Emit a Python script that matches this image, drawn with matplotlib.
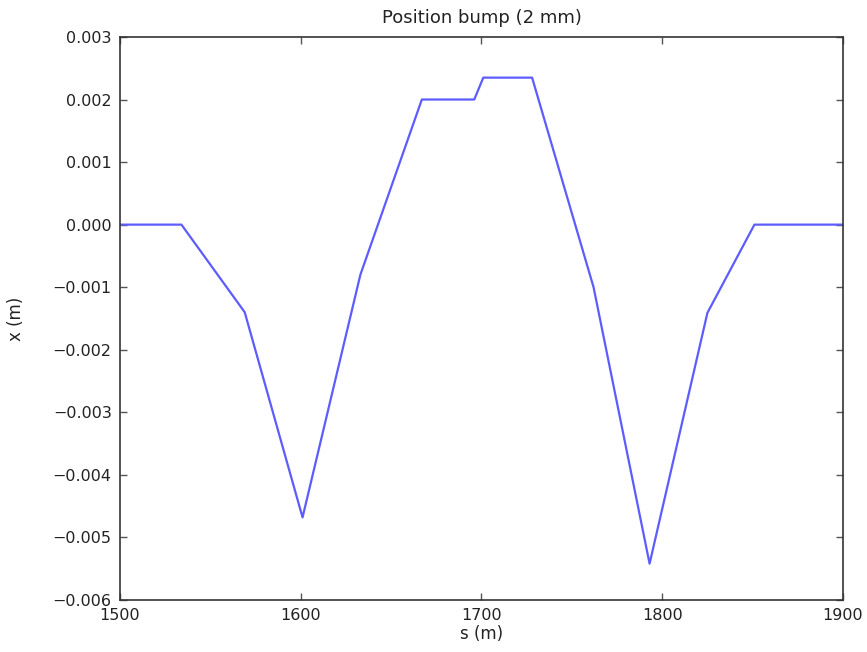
import numpy as np
import matplotlib
matplotlib.use("Agg")
import matplotlib.pyplot as plt

# orbit knots along the bump region
s_pos = [1500, 1534, 1569, 1601, 1633, 1667, 1696, 1701, 1728, 1762, 1793, 1825, 1851, 1900]
x_pos = [0.0, 0.0, -0.00140, -0.00468, -0.00080, 0.00200, 0.00200, 0.00235, 0.00235,
         -0.00100, -0.00542, -0.00141, 0.0, 0.0]

y_ticks = [0.003, 0.002, 0.001, 0.0, -0.001, -0.002, -0.003, -0.004, -0.005, -0.006]
x_ticks = [1500, 1600, 1700, 1800, 1900]

plt.rcParams['font.family'] = 'DejaVu Sans'
plt.rcParams['font.size'] = 11.5

fig = plt.figure(figsize=(8.67, 6.52), dpi=100)
ax = fig.add_axes([0.1384, 0.0798, 0.9723 - 0.1384, 0.9433 - 0.0798])

ax.plot(s_pos, x_pos, color='#5c5cff', lw=1.6, solid_joinstyle='round')

ax.set_xlim(1500, 1900)
ax.set_ylim(-0.006, 0.003)
ax.set_xticks(x_ticks)
ax.set_yticks(y_ticks)
ax.yaxis.set_major_formatter(plt.FuncFormatter(lambda v, p: ('%.3f' % v).replace('-', '\u2212')))
ax.tick_params(direction='in', top=True, right=True, length=5, width=1, pad=6,
               color='#555555', labelcolor='#222222')
for sp in ax.spines.values():
    sp.set_color('#333333')
    sp.set_linewidth(1.2)

ax.set_title('Position bump (2 mm)', fontsize=13, pad=10, color='#222222')
ax.set_xlabel('s (m)', fontsize=12, labelpad=1, color='#222222')
ax.set_ylabel('x (m)', fontsize=12, labelpad=20, color='#222222')

fig.savefig('out.png', dpi=100)
